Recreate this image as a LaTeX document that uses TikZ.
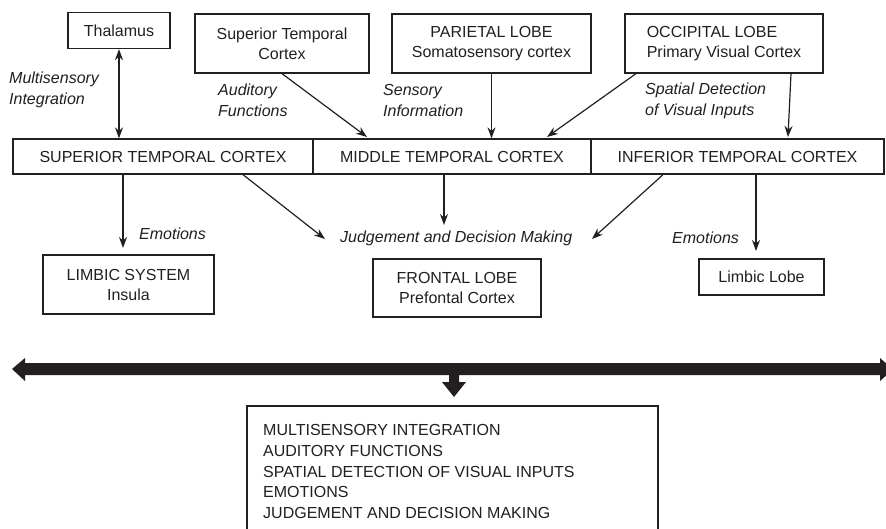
\documentclass[tikz,border=0pt]{standalone}
\usepackage{fontspec}
\setmainfont{Liberation Sans}
\usetikzlibrary{arrows.meta}
\definecolor{ink}{RGB}{35,31,32}
\begin{document}
\begin{tikzpicture}[x=1pt,y=-1pt,
  every node/.style={font=\fontsize{16}{20}\selectfont, text=ink},
  box/.style={draw=ink, line width=1.3pt, inner sep=0pt, align=center},
  lbl/.style={font=\fontsize{16}{21}\selectfont\itshape, align=left, anchor=west, inner sep=0pt},
  conn/.style={draw=ink, line width=1.2pt, -{Stealth[length=11pt,width=8pt]}},
  dconn/.style={draw=ink, line width=1.2pt, {Stealth[length=11pt,width=8pt]}-{Stealth[length=11pt,width=8pt]}},
  ]
\useasboundingbox (0,0) rectangle (886,529);
\clip (0,0) rectangle (886,529);
\fill[white] (0,0) rectangle (886,529);

% top boxes
\node[box, minimum width=102, minimum height=36] (thal) at (119,30.5) {Thalamus};
\node[box, minimum width=174, minimum height=59] (stbox) at (282,43.5) {Superior Temporal\\Cortex};
\node[box, minimum width=199, minimum height=59] (par) at (491.5,43.5) {PARIETAL LOBE\\Somatosensory cortex};
\node[box, minimum width=198, minimum height=59, align=left] (occ) at (724,43.5) {OCCIPITAL LOBE\\Primary Visual Cortex};

% temporal bar
\node[box, minimum width=300, minimum height=35] (stcx) at (163,156.5) {SUPERIOR TEMPORAL CORTEX};
\node[box, minimum width=278, minimum height=35] (mtcx) at (452,156.5) {MIDDLE TEMPORAL CORTEX};
\node[box, minimum width=293, minimum height=35] (itcx) at (737.5,156.5) {INFERIOR TEMPORAL CORTEX};

% lower boxes
\node[box, minimum width=171, minimum height=59] (limsys) at (128.5,284.5) {LIMBIC SYSTEM\\Insula};
\node[box, minimum width=168, minimum height=58] (front) at (457,288) {FRONTAL LOBE\\Prefontal Cortex};
\node[box, minimum width=125, minimum height=36] (limlobe) at (761.5,277) {Limbic Lobe};

% labels
\node[lbl] (l1) at (9,89.5) {Multisensory\\Integration};
\node[lbl] (l2) at (218,100.5) {Auditory\\Functions};
\node[lbl] (l3) at (383,100.5) {Sensory\\Information};
\node[lbl] (l4) at (645,100.5) {Spatial Detection\\of Visual Inputs};
\node[lbl] (l5) at (139,234) {Emotions};
\node[lbl] (l6) at (340,238) {Judgement and Decision Making};
\node[lbl] (l7) at (672,238) {Emotions};

% upper connectors
\coordinate (t2) at (367,137);
\coordinate (t4) at (547,137);
\coordinate (t5) at (788,137);
\draw[dconn] (thal.south) -- (thal.south |- stcx.north);
\draw[conn] (stbox.south) -- (t2);
\draw[conn] (par.south) -- (par.south |- mtcx.north);
\draw[conn] ([xshift=-88pt]occ.south) -- (t4);
\draw[conn] ([xshift=67pt]occ.south) -- (t5);

% lower connectors
\coordinate (b1) at (123,248);
\coordinate (b2) at (325,239);
\coordinate (b3) at (444,225);
\coordinate (b4) at (592,239);
\coordinate (b5) at (756,251);
\draw[conn] (stcx.south -| b1) -- (b1);
\draw[conn] ([xshift=80pt]stcx.south) -- (b2);
\draw[conn] (mtcx.south -| b3) -- (b3);
\draw[conn] ([xshift=-74.5pt]itcx.south) -- (b4);
\draw[conn] (itcx.south -| b5) -- (b5);

% thick double arrow with down branch
\fill[ink] (12,369) -- (25,358) -- (25,363) -- (880,363) -- (880,358) -- (893,369.5)
  -- (880,381) -- (880,375) -- (459,375) -- (459,382) -- (466,382) -- (454,397)
  -- (442,382) -- (449,382) -- (449,375) -- (25,375) -- (25,381) -- cycle;

% summary box
\draw[ink, line width=1.3pt] (247,540) -- (247,406) -- (658,406) -- (658,540);
\node[anchor=north west, align=left, inner sep=0pt, font=\fontsize{16}{20.6}\selectfont] (sum) at (263,424.5)
  {MULTISENSORY INTEGRATION\\AUDITORY FUNCTIONS\\SPATIAL DETECTION OF VISUAL INPUTS\\EMOTIONS\\JUDGEMENT AND DECISION MAKING};
\end{tikzpicture}
\end{document}
